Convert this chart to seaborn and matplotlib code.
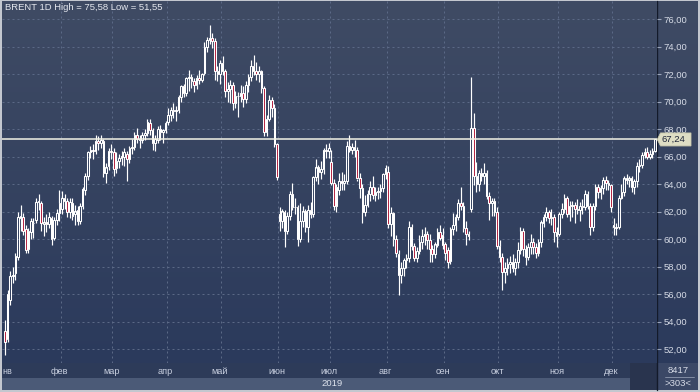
import numpy as np
import pandas as pd
import matplotlib
matplotlib.use("Agg")
import matplotlib.pyplot as plt
import seaborn as sns
from matplotlib.patches import Rectangle, Polygon
from matplotlib.colors import LinearSegmentedColormap
from matplotlib.lines import Line2D

# ---------------- data ----------------
opens = [
    53.3, 52.7, 55.6, 57.3, 57.5, 58.7, 61.5, 61.6, 60.7, 59.3, 60.5, 61.2, 61.4, 62.7, 62.6, 61.1, 61.2, 61.1, 61.5, 60.1, 61.4, 61.9,
    62.2, 63.0, 62.8, 62.0, 62.6, 61.8, 62.1, 61.3, 62.4, 63.6, 64.6, 66.3, 66.5, 66.4, 67.1, 67.0, 67.1, 64.8, 65.3, 66.4,
    66.3, 65.2, 65.7, 65.9, 66.0, 66.2, 65.8, 66.6, 66.7, 67.6, 67.3, 67.2, 67.6, 67.7, 68.4, 67.9, 67.0, 67.2, 68.0, 67.8, 67.9,
    68.5, 69.0, 69.4, 69.3, 69.4, 70.3, 71.1, 70.6, 71.7, 71.8, 71.5, 71.2, 71.7, 71.6, 72.1, 74.0, 74.5, 74.6, 74.4, 72.2, 72.0,
    72.8, 72.2, 70.8, 70.9, 71.2, 69.9, 70.4, 70.4, 70.6, 70.2, 71.2, 71.8, 72.6, 72.2, 72.0, 72.2, 71.0, 67.8, 68.7, 70.1, 69.5, 66.9,
    61.8, 61.3, 62.0, 60.6, 61.7, 63.3, 62.3, 62.3, 60.0, 61.3, 62.0, 60.9, 62.1, 61.8, 64.5, 65.2, 64.9, 65.1, 66.5, 66.4,
    65.6, 64.1, 62.4, 63.6, 64.2, 64.1, 64.2, 66.8, 66.5, 66.7, 66.5, 64.4, 63.7, 62.0, 62.5, 63.3, 63.8, 63.2, 63.4, 63.5, 63.7, 64.7,
    64.9, 61.1, 61.9, 60.0, 58.9, 57.4, 57.9, 58.5, 58.6, 60.9, 59.5, 58.6, 59.1, 59.8, 60.2, 60.4, 59.9, 59.3, 58.9, 59.6, 60.5, 60.3,
    59.6, 59.2, 58.4, 60.7, 61.0, 61.6, 62.6, 62.4, 60.8, 60.4, 62.2, 68.1, 64.6, 64.0, 64.8, 64.6, 64.8, 63.1, 62.6, 62.8, 62.0,
    59.5, 58.7, 57.6, 57.9, 58.2, 58.3, 57.9, 58.3, 59.2, 60.6, 59.3, 58.7, 59.4, 59.8, 59.4, 59.0, 59.8, 61.2, 61.6, 62.0, 61.5, 61.6, 60.5,
    60.4, 61.8, 62.2, 63.0, 61.8, 62.4, 62.5, 62.2, 62.1, 62.4, 62.3, 63.3, 62.4, 60.9, 62.4, 63.8, 63.4, 63.7, 64.3, 64.1, 63.9,
    61.0, 60.9, 60.9, 63.0, 63.4, 64.4, 64.3, 64.4, 63.8, 64.2, 65.3, 65.4, 66.1, 66.3, 66.0, 66.2, 66.4,
]
highs = [
    54.1, 56.3, 57.7, 58.0, 59.0, 62.0, 62.5, 61.9, 61.0, 60.8, 61.5, 61.5, 63.0, 63.3, 62.8, 61.6, 61.8, 62.0, 61.7, 61.6, 62.2, 63.6,
    63.5, 63.3, 63.0, 63.0, 63.0, 62.5, 62.4, 62.6, 63.8, 64.8, 66.4, 66.8, 66.9, 67.6, 67.5, 67.6, 67.3, 65.5, 66.6, 66.9,
    66.6, 66.3, 66.2, 66.4, 66.6, 66.4, 66.8, 67.3, 67.8, 68.1, 67.6, 67.8, 68.0, 68.7, 68.7, 68.1, 67.6, 68.2, 68.3, 68.0, 68.6,
    69.5, 69.6, 69.9, 69.7, 70.5, 71.2, 71.3, 71.8, 72.3, 72.0, 71.7, 71.9, 72.3, 72.1, 74.3, 74.7, 75.58, 75.0, 74.6, 72.6, 73.0,
    73.3, 72.4, 71.4, 71.6, 71.4, 70.8, 70.7, 71.2, 71.1, 71.5, 72.0, 73.0, 73.4, 72.9, 72.6, 72.3, 71.1, 69.0, 70.5, 70.3, 69.8, 67.0,
    62.3, 62.2, 62.1, 62.0, 63.5, 64.1, 63.0, 62.5, 62.6, 62.4, 62.2, 62.5, 62.7, 64.6, 65.8, 65.4, 65.7, 66.6, 66.9, 67.0,
    66.5, 64.4, 64.0, 64.8, 64.9, 64.7, 67.1, 67.6, 67.0, 67.2, 66.7, 64.8, 64.0, 63.2, 63.6, 64.2, 64.6, 63.8, 63.8, 64.0, 64.8, 65.4,
    65.3, 62.3, 62.0, 60.3, 59.2, 58.3, 58.6, 58.9, 61.3, 61.1, 59.7, 59.4, 60.3, 60.7, 60.9, 60.6, 60.4, 59.6, 59.8, 60.8, 61.0, 60.8,
    59.8, 59.4, 60.9, 61.9, 61.8, 62.9, 63.8, 62.7, 61.3, 60.6, 71.8, 69.2, 65.6, 65.0, 65.2, 65.5, 65.0, 63.4, 63.0, 63.0, 62.3,
    59.9, 59.0, 58.3, 58.6, 58.8, 58.9, 58.6, 59.8, 60.9, 60.8, 59.6, 59.7, 60.4, 60.1, 59.7, 60.0, 61.4, 61.8, 62.3, 62.1, 62.2, 61.8, 60.9,
    62.0, 62.6, 63.3, 63.1, 62.8, 62.8, 62.7, 62.9, 62.7, 62.9, 63.6, 63.5, 62.6, 62.6, 64.0, 64.0, 63.9, 64.5, 64.6, 64.3, 64.0,
    61.5, 61.2, 63.2, 64.0, 64.6, 64.7, 64.6, 64.6, 64.4, 65.6, 65.8, 66.3, 66.6, 66.7, 66.5, 66.6, 67.3,
]
lows = [
    51.55, 52.5, 55.2, 56.8, 57.0, 58.5, 60.6, 60.3, 59.0, 59.0, 60.0, 60.1, 61.2, 62.1, 60.6, 60.2, 60.5, 60.8, 59.6, 59.9, 61.0, 61.3,
    61.8, 62.2, 61.6, 61.5, 61.4, 61.0, 61.0, 61.1, 62.2, 63.2, 64.3, 65.9, 65.8, 66.2, 66.5, 66.6, 64.5, 64.1, 65.0, 65.8,
    64.6, 64.8, 65.2, 65.4, 65.3, 64.2, 65.5, 66.2, 66.5, 67.0, 66.6, 67.0, 67.2, 67.5, 67.6, 66.5, 66.4, 67.0, 67.2, 67.0, 67.7,
    68.3, 68.6, 68.8, 68.6, 69.2, 70.0, 70.3, 70.4, 70.8, 71.0, 70.7, 70.9, 71.3, 71.4, 71.9, 73.6, 74.2, 73.9, 71.6, 71.5, 71.3,
    71.9, 70.3, 70.0, 69.9, 69.4, 69.5, 68.9, 70.0, 69.6, 69.9, 70.7, 71.5, 71.9, 71.6, 71.4, 70.6, 67.5, 67.5, 68.6, 68.9, 66.7, 64.3,
    60.6, 60.8, 59.4, 60.4, 61.4, 62.1, 61.8, 59.5, 59.8, 60.9, 60.5, 59.8, 61.5, 61.6, 64.2, 64.0, 64.4, 64.7, 65.9, 65.9,
    63.9, 62.1, 62.0, 63.2, 63.6, 63.6, 64.0, 66.3, 66.2, 66.0, 64.2, 63.0, 61.2, 61.7, 62.3, 62.8, 62.9, 62.8, 62.9, 63.0, 63.4, 64.4,
    60.8, 60.2, 59.5, 58.7, 55.9, 56.8, 57.3, 57.9, 58.3, 59.2, 58.4, 58.3, 58.9, 59.3, 59.6, 59.3, 58.3, 58.3, 58.6, 59.4, 59.9, 59.3,
    58.5, 57.9, 58.2, 60.3, 60.6, 61.4, 62.1, 60.5, 59.6, 59.9, 62.0, 63.9, 63.4, 63.5, 64.2, 64.0, 62.9, 61.4, 61.7, 61.7, 59.3,
    58.3, 56.3, 56.8, 57.4, 57.5, 57.6, 57.4, 57.9, 58.9, 58.8, 58.1, 58.5, 58.9, 58.9, 58.6, 58.8, 59.4, 60.9, 61.3, 61.2, 61.0, 59.8, 59.4,
    60.2, 61.5, 61.9, 61.6, 61.3, 61.6, 61.2, 61.8, 61.3, 61.8, 62.1, 62.2, 60.3, 60.6, 62.1, 63.0, 62.9, 63.3, 63.6, 63.6, 62.0,
    60.3, 60.3, 60.7, 62.9, 63.1, 64.0, 63.8, 63.4, 63.3, 63.8, 64.9, 65.2, 65.9, 65.8, 65.8, 65.9, 66.3,
]
closes = [
    52.5, 56.0, 57.3, 57.4, 58.8, 61.6, 61.7, 60.6, 59.2, 60.6, 61.3, 61.2, 62.7, 62.8, 61.2, 61.2, 61.1, 61.6, 60.0, 61.4, 61.9, 62.6,
    63.0, 62.8, 62.0, 62.7, 61.7, 62.0, 61.3, 62.4, 63.6, 64.6, 66.3, 66.5, 66.4, 67.1, 67.0, 67.2, 64.8, 65.2, 66.4, 66.3,
    65.1, 65.7, 65.9, 66.0, 66.3, 65.8, 66.6, 66.7, 67.6, 67.3, 67.2, 67.6, 67.7, 68.5, 67.9, 67.0, 67.3, 68.0, 67.8, 67.9, 68.4,
    69.0, 69.4, 69.3, 69.4, 70.3, 71.1, 70.6, 71.7, 71.8, 71.5, 71.2, 71.7, 71.6, 72.0, 74.0, 74.5, 74.6, 74.4, 72.2, 72.0, 72.8,
    72.2, 70.8, 70.9, 71.2, 69.9, 70.4, 70.4, 70.6, 70.2, 71.2, 71.8, 72.6, 72.2, 72.0, 72.2, 71.0, 67.8, 68.7, 70.1, 69.5, 66.9, 64.5,
    61.3, 62.0, 60.6, 61.7, 63.3, 62.3, 62.3, 60.0, 61.3, 62.0, 60.9, 62.1, 61.8, 64.5, 65.2, 64.9, 65.1, 66.5, 66.4, 66.6,
    64.1, 62.4, 63.8, 64.2, 64.1, 64.2, 66.8, 66.5, 66.7, 66.5, 64.4, 63.7, 62.0, 62.5, 63.3, 63.8, 63.2, 63.4, 63.5, 63.7, 64.7, 65.2,
    61.1, 61.9, 60.0, 59.0, 57.4, 57.9, 58.5, 58.6, 60.9, 59.5, 58.6, 59.1, 59.8, 60.2, 60.4, 59.9, 59.3, 58.9, 59.6, 60.5, 60.1, 59.6,
    59.0, 58.3, 60.7, 61.0, 61.6, 62.6, 62.4, 60.8, 60.4, 60.2, 68.1, 64.6, 64.0, 64.8, 64.6, 64.8, 63.1, 62.6, 62.8, 62.0, 59.5,
    58.7, 57.6, 57.9, 58.2, 58.3, 57.9, 58.3, 59.2, 60.6, 59.3, 58.7, 59.4, 59.8, 59.4, 59.0, 59.8, 61.2, 61.6, 62.0, 61.5, 61.6, 60.5, 60.2,
    61.8, 62.2, 63.0, 61.8, 62.4, 62.5, 62.2, 62.1, 62.4, 62.3, 63.3, 62.4, 60.9, 62.4, 63.8, 63.4, 63.7, 64.3, 64.1, 63.9, 62.3,
    60.9, 60.8, 63.0, 63.4, 64.4, 64.3, 64.4, 63.8, 64.2, 65.3, 65.4, 66.1, 66.3, 66.0, 66.2, 66.4, 67.24,
]
month_labels = ["нв", "фев", "мар", "апр", "май", "июн", "июл", "авг", "сен", "окт", "ноя", "дек"]
month_start = [0, 22, 42, 63, 84, 106, 126, 148, 170, 191, 214, 235]
price_ticks = [52, 54, 56, 58, 60, 62, 64, 66, 68, 70, 72, 74, 76]
last_price = 67.24
title_text = "BRENT 1D High = 75,58 Low = 51,55"
year_text = "2019"
counter_top = "8417"
counter_bottom = ">303<"

df = pd.DataFrame({"open": opens, "high": highs, "low": lows, "close": closes})
df["i"] = np.arange(len(df))
df["up"] = df["close"] >= df["open"]
df["btm"] = df[["open", "close"]].min(axis=1)
df["top"] = df[["open", "close"]].max(axis=1)

# ---------------- style ----------------
sns.set_theme(style="dark")
plt.rcParams["font.family"] = ["Liberation Sans", "DejaVu Sans"]

W, H = 700, 392
fig = plt.figure(figsize=(W / 100, H / 100), dpi=100)
fig.patch.set_facecolor("#c3c7cf")

def rect(x0, ytop, w, h):
    return [x0 / W, (H - ytop - h) / H, w / W, h / H]

grad = LinearSegmentedColormap.from_list("bg", ["#2b3a5c", "#3f4b64"])
gimg = np.linspace(0, 1, 256).reshape(-1, 1)

n = len(df)
px_step = 650 / (n - 1)
xlim = (-3 / px_step, (n - 1) + 2 / px_step)
ppu = 13.75
ylim = (52 - (363 - 349) / ppu, 76 + 18 / ppu)

# right price panel (background)
rp = fig.add_axes(rect(657, 1, 41, 362))
rp.imshow(gimg, extent=(0, 1, 0, 1), transform=rp.transAxes, aspect="auto",
          cmap=grad, origin="lower", zorder=0)
rp.set_xlim(0, 41)
rp.set_ylim(*ylim)
rp.set_axis_off()

# main plot
ax = fig.add_axes(rect(2, 1, 655, 362))
ax.set_zorder(2)
ax.imshow(gimg, extent=(0, 1, 0, 1), transform=ax.transAxes, aspect="auto",
          cmap=grad, origin="lower", zorder=0)
grid_col = "#5b6986"
for p in price_ticks:
    ax.axhline(p, color=grid_col, lw=0.72, ls=(0, (2, 3)), zorder=1)
for m in month_start[1:]:
    ax.axvline(m - 0.5, color=grid_col, lw=0.72, ls=(0, (2, 3)), zorder=1)

# wicks (outside the bodies)
ax.vlines(df["i"], df["low"], df["btm"], color="white", lw=0.85, zorder=3)
ax.vlines(df["i"], df["top"], df["high"], color="white", lw=0.85, zorder=3)
# bodies
up = df[df["up"]]
dn = df[~df["up"]]
ax.bar(up["i"], up["top"] - up["btm"], bottom=up["btm"], width=0.62,
       facecolor="none", edgecolor="white", linewidth=0.75, zorder=4)
ax.bar(dn["i"], dn["top"] - dn["btm"], bottom=dn["btm"], width=0.62,
       facecolor="#b3203f", edgecolor="white", linewidth=0.75, zorder=4)

ax.axhline(last_price, color="#f2f2e6", lw=1.1, zorder=5)

ax.set_xlim(*xlim)
ax.set_ylim(*ylim)
ax.set_xticks([])
ax.yaxis.tick_right()
ax.set_yticks(price_ticks)
ax.set_yticklabels([f"{p:.2f}".replace(".", ",") for p in price_ticks])
ax.tick_params(axis="y", colors="#d6dbe6", labelsize=6.8, length=3, width=0.8,
               pad=1.5, direction="out")
ax.tick_params(axis="y", which="both", color="#9aa4b8")
for s in ax.spines.values():
    s.set_visible(False)
ax.grid(False)

# price tag
th = 13 / ppu
tag = Polygon([(0.3, last_price), (3.5, last_price + th / 2), (34, last_price + th / 2),
               (34, last_price - th / 2), (3.5, last_price - th / 2)], closed=True,
              facecolor="#dedec4", edgecolor="#c9c9ad", lw=0.6, zorder=6)
rp2 = fig.add_axes(rect(657, 1, 41, 362))
rp2.set_zorder(3)
rp2.patch.set_alpha(0)
rp2.set_xlim(0, 41)
rp2.set_ylim(*ylim)
rp2.set_axis_off()
rp2.add_patch(tag)
rp2.text(4.5, last_price, f"{last_price:.2f}".replace(".", ","), fontsize=6.8,
         color="#1c2438", va="center", ha="left", zorder=7)

# bottom date strip
st = fig.add_axes(rect(2, 363, 655, 27))
st.set_xlim(*xlim)
st.set_ylim(0, 27)
st.set_axis_off()
st.add_patch(Rectangle((xlim[0], 12), xlim[1] - xlim[0], 15, facecolor="#2d3b59", edgecolor="none"))
st.add_patch(Rectangle((xlim[0], 0), xlim[1] - xlim[0], 12, facecolor="#4b5a77", edgecolor="none"))
st.add_patch(Rectangle((241.3, 0), xlim[1] - 241.3, 27, facecolor="#29344e", edgecolor="none"))
for k, (name, m) in enumerate(zip(month_labels, month_start)):
    if k == 0:
        st.text(xlim[0] + 0.2, 18.5, name, ha="left", va="center", fontsize=6.6,
                color="#c9d0e0")
    else:
        st.text(m - 1, 18.5, name, ha="center", va="center", fontsize=6.6,
                color="#c9d0e0")
st.text(sum(xlim) / 2 + 1, 6, year_text, ha="center", va="center", fontsize=6.8,
        color="#dde2ec")

# corner counter box
cb = fig.add_axes(rect(657, 363, 41, 27))
cb.set_xlim(0, 41)
cb.set_ylim(0, 27)
cb.set_axis_off()
cb.add_patch(Rectangle((0, 0), 41, 27, facecolor="#3b4866", edgecolor="none"))
cb.text(21, 19.5, counter_top, ha="center", va="center", fontsize=6.8, color="#d8dde8")
cb.plot([8, 37], [13, 13], color="#8d97ad", lw=0.6)
cb.text(21, 6.5, counter_bottom, ha="center", va="center", fontsize=6.8, color="#d8dde8")

# separator line between plot and price axis
fig.add_artist(Line2D([657 / W, 657 / W], [2 / H, 1 - 1 / H], color="#131a2a", lw=1.0))

# title
fig.text(5 / W, 1 - 8 / H, title_text, fontsize=6.8, color="#e4e7ee", va="center", ha="left",
         zorder=10)

fig.savefig("out.png", dpi=100, facecolor=fig.get_facecolor())
